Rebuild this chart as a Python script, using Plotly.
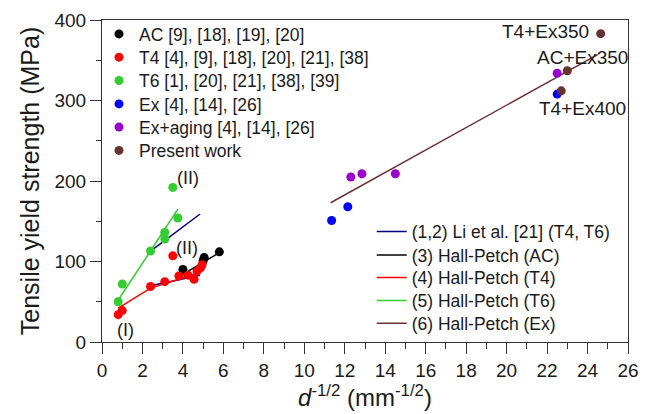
import plotly.graph_objects as go

# ---- data ----
ac_x = [4.0, 5.0, 5.05, 5.8]
ac_y = [90, 101, 105, 112]

t4_x = [0.8, 1.0, 2.4, 3.1, 3.5, 3.8, 4.25, 4.55, 4.7, 4.87, 4.95]
t4_y = [34, 39, 69, 75, 107, 82, 83, 78, 88, 92, 96]

t6_x = [0.8, 1.0, 2.4, 3.1, 3.1, 3.5, 3.75]
t6_y = [50, 72, 113, 128, 136, 192, 154]

ex_x = [11.35, 12.15, 22.5]
ex_y = [151, 168, 308]

exag_x = [12.3, 12.85, 14.5, 22.5]
exag_y = [205, 209, 209, 334]

pw_x = [24.65, 23.0, 22.7]
pw_y = [383, 337, 312]

li_x = [2.4, 4.85, None, 2.4, 4.85]
li_y = [113, 159, None, 70, 83]

hp_ac_x = [4.0, 5.8]
hp_ac_y = [84, 111]

hp_t4_x = [0.8, 2.4, 4.7, 5.0]
hp_t4_y = [42, 67, 85, 99]

hp_t6_x = [0.75, 3.75]
hp_t6_y = [50, 165]

hp_ex_x = [11.3, 24.5]
hp_ex_y = [173, 357]

point_names = ["AC [9], [18], [19], [20]", "T4 [4], [9], [18], [20], [21], [38]",
               "T6 [1], [20], [21], [38], [39]", "Ex [4], [14], [26]",
               "Ex+aging [4], [14], [26]", "Present work"]
line_names = ["(1,2) Li et al. [21] (T4, T6)", "(3) Hall-Petch (AC)", "(4) Hall-Petch (T4)",
              "(5) Hall-Petch (T6)", "(6) Hall-Petch (Ex)"]

FONT = "Liberation Sans, Arial, sans-serif"
TXT = "#1a1a1a"

# page geometry (the page body adds an 8px offset)
W, H = 650, 414
ML, MR, MT, MB = 94, 30, 12, 80
OFF = 8
plot_left, plot_right = ML + OFF, W - MR + OFF
plot_top, plot_bottom = MT + OFF, H - MB + OFF


def py2paper(py):
    return (plot_bottom - py) / (plot_bottom - plot_top)


def px2paper(px):
    return (px - plot_left) / (plot_right - plot_left)


fig = go.Figure()
legends = {}
li = 0

# lines (lower legend block)
line_sets = [(li_x, li_y, "#000080"), (hp_ac_x, hp_ac_y, "#000000"), (hp_t4_x, hp_t4_y, "#ff0000"),
             (hp_t6_x, hp_t6_y, "#33cc33"), (hp_ex_x, hp_ex_y, "#6b3333")]
line_rows = [231.7, 255, 277.7, 300.5, 323.3]
for (lx, ly, c), nm, row in zip(line_sets, line_names, line_rows):
    li += 1
    key = "legend" if li == 1 else f"legend{li}"
    fig.add_trace(go.Scatter(x=lx, y=ly, mode="lines", name=nm, line=dict(color=c, width=1.5),
                             legend=key))
    legends[key] = dict(x=px2paper(371.7), y=py2paper(row), xanchor="left", yanchor="middle",
                        bgcolor="rgba(0,0,0,0)", font=dict(family=FONT, size=17.5, color=TXT))

# points (upper legend block)
pt_sets = [(ac_x, ac_y, "#000000"), (t4_x, t4_y, "#ff0000"), (t6_x, t6_y, "#33cc33"),
           (ex_x, ex_y, "#0000ff"), (exag_x, exag_y, "#9900cc"), (pw_x, pw_y, "#663333")]
pt_rows = [34, 57.3, 80.6, 104, 127.2, 150.5]
for (px, py, c), nm, row in zip(pt_sets, point_names, pt_rows):
    li += 1
    key = f"legend{li}"
    fig.add_trace(go.Scatter(x=px, y=py, mode="markers", name=nm,
                             marker=dict(color=c, size=9), legend=key))
    legends[key] = dict(x=px2paper(99), y=py2paper(row), xanchor="left", yanchor="middle",
                        bgcolor="rgba(0,0,0,0)", font=dict(family=FONT, size=17.5, color=TXT))

annots = [
    dict(x=24.15, y=386, text="T4+Ex350", xanchor="right", size=19),
    dict(x=23.75, y=354, text="AC+Ex350", xanchor="center", size=19),
    dict(x=23.73, y=290, text="T4+Ex400", xanchor="center", size=19),
    dict(x=4.23, y=204, text="(II)", xanchor="center", size=18),
    dict(x=4.22, y=117, text="(II)", xanchor="center", size=18),
    dict(x=1.18, y=15, text="(I)", xanchor="center", size=18),
]
for a in annots:
    fig.add_annotation(x=a["x"], y=a["y"], text=a["text"], xanchor=a["xanchor"], yanchor="middle",
                       showarrow=False, font=dict(family=FONT, size=a["size"], color=TXT))

fig.update_layout(
    width=W, height=H,
    margin=dict(l=ML, r=MR, t=MT, b=MB, autoexpand=False),
    paper_bgcolor="white", plot_bgcolor="white",
    font=dict(family=FONT, size=17, color=TXT),
    showlegend=True,
    xaxis=dict(range=[0, 26], tickmode="array", tickvals=list(range(0, 27, 2)),
               ticks="outside", ticklen=11, tickwidth=1, tickcolor="#333",
               minor=dict(dtick=1, ticks="outside", ticklen=6, tickcolor="#333"),
               showline=True, linecolor="#333", linewidth=1, mirror=True,
               showgrid=False, zeroline=False,
               tickfont=dict(family=FONT, size=19),
               title=dict(text="<i>d</i><sup>-1/2</sup> (mm<sup>-1/2</sup>)",
                          font=dict(family=FONT, size=24), standoff=5)),
    yaxis=dict(range=[0, 400], tickmode="array", tickvals=[0, 100, 200, 300, 400],
               ticks="outside", ticklen=11, tickwidth=1, tickcolor="#333",
               minor=dict(dtick=50, ticks="outside", ticklen=5, tickcolor="#333"),
               showline=True, linecolor="#333", linewidth=1, mirror=True,
               showgrid=False, zeroline=False,
               tickfont=dict(family=FONT, size=19),
               title=dict(text="Tensile yield strength (MPa)",
                          font=dict(family=FONT, size=25), standoff=7)),
)
fig.update_layout(**legends)

fig.write_html("out.html")
